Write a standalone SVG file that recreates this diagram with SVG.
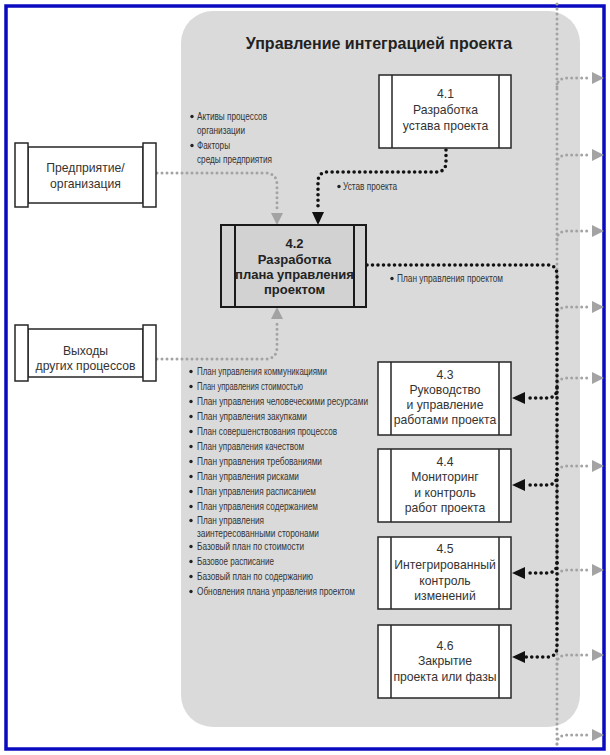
<svg xmlns="http://www.w3.org/2000/svg" width="610" height="755" viewBox="0 0 610 755">
<defs>
<style>
.box{fill:#fff;stroke:#262626;stroke-width:1.5}
.side{fill:none;stroke:#262626;stroke-width:1.5}
.bt{font-family:"Liberation Sans",Arial,sans-serif;font-size:12.2px;fill:#333;text-anchor:middle}
.bb{font-family:"Liberation Sans",Arial,sans-serif;font-size:13px;font-weight:bold;fill:#222;text-anchor:middle}
.sm{font-family:"Liberation Sans",Arial,sans-serif;font-size:10.5px;fill:#333}
.gd{fill:none;stroke:#a3a3a3;stroke-width:3;stroke-dasharray:0 5;stroke-linecap:round}
.kd{fill:none;stroke:#111;stroke-width:3.6;stroke-dasharray:0 5.5;stroke-linecap:round}
.ga{fill:#a3a3a3}
.ka{fill:#111}
.dot{fill:#222}
</style>
</defs>
<rect x="0" y="0" width="610" height="755" fill="#fff"/>
<rect x="6" y="6" width="598" height="743" fill="none" stroke="#0a0ac0" stroke-width="3.5"/>
<g id="container">
<rect x="181" y="11" width="399" height="716" rx="32" ry="32" fill="#dadada"/>
<text x="379" y="49" font-family="Liberation Sans,Arial,sans-serif" font-size="16" font-weight="bold" fill="#222" text-anchor="middle">Управление интеграцией проекта</text>
</g>
<g id="connectors">
<path class="gd" d="M557,4 V749"/>
<path class="gd" d="M557,87 Q557,78 567,78 H590"/>
<path class="gd" d="M557,164 Q557,155 567,155 H590"/>
<path class="gd" d="M557,240 Q557,231 567,231 H590"/>
<path class="gd" d="M557,316 Q557,307 567,307 H590"/>
<path class="gd" d="M557,387 Q557,378 567,378 H590"/>
<path class="gd" d="M557,475 Q557,466 567,466 H590"/>
<path class="gd" d="M557,579 Q557,570 567,570 H590"/>
<path class="gd" d="M557,664 Q557,655 567,655 H590"/>
<path class="gd" d="M557,744 Q557,735 567,735 H590"/>
<polygon class="ga" points="604,78 592,72 592,84"/>
<polygon class="ga" points="604,155 592,149 592,161"/>
<polygon class="ga" points="604,231 592,225 592,237"/>
<polygon class="ga" points="604,307 592,301 592,313"/>
<polygon class="ga" points="604,378 592,372 592,384"/>
<polygon class="ga" points="604,466 592,460 592,472"/>
<polygon class="ga" points="604,570 592,564 592,576"/>
<polygon class="ga" points="604,655 592,649 592,661"/>
<polygon class="ga" points="604,735 592,729 592,741"/>
<path class="gd" d="M157,173 H265 Q277,173 277,185 V212"/>
<polygon class="ga" points="277,225 271,213 283,213"/>
<path class="gd" d="M157,359 H265 Q277,359 277,347 V320"/>
<polygon class="ga" points="277,307 271,319 283,319"/>
<path class="kd" d="M446,150 V162 Q446,172 436,172 H328 Q318,172 318,182 V211"/>
<polygon class="ka" points="318,225 312,212 324,212"/>
<path class="kd" d="M367,265 H547 Q557,265 557,275 V647 Q557,657 547,657 H525"/>
<path class="kd" d="M557,388 Q557,398 547,398 H525"/>
<path class="kd" d="M557,475 Q557,485 547,485 H525"/>
<path class="kd" d="M557,563 Q557,573 547,573 H525"/>
<polygon class="ka" points="512,398 525,392 525,404"/>
<polygon class="ka" points="512,485 525,479 525,491"/>
<polygon class="ka" points="512,573 525,567 525,579"/>
<polygon class="ka" points="512,657 525,651 525,663"/>
</g>
<g id="labels">
<circle class="dot" cx="192" cy="116.5" r="1.7"/>
<circle class="dot" cx="192" cy="145.5" r="1.7"/>
<circle class="dot" cx="339" cy="186.5" r="1.7"/>
<circle class="dot" cx="392" cy="278.5" r="1.7"/>
<text class="sm" x="197" y="120" textLength="70" lengthAdjust="spacingAndGlyphs">Активы процессов</text>
<text class="sm" x="197" y="134" textLength="48" lengthAdjust="spacingAndGlyphs">организации</text>
<text class="sm" x="197" y="149" textLength="33" lengthAdjust="spacingAndGlyphs">Факторы</text>
<text class="sm" x="197" y="163" textLength="75" lengthAdjust="spacingAndGlyphs">среды предприятия</text>
<text class="sm" x="343" y="190" textLength="54" lengthAdjust="spacingAndGlyphs">Устав проекта</text>
<text class="sm" x="397" y="282" textLength="106" lengthAdjust="spacingAndGlyphs">План управления проектом</text>
<circle class="dot" cx="191" cy="371.5" r="1.7"/>
<circle class="dot" cx="191" cy="386.5" r="1.7"/>
<circle class="dot" cx="191" cy="401.5" r="1.7"/>
<circle class="dot" cx="191" cy="416.5" r="1.7"/>
<circle class="dot" cx="191" cy="431.5" r="1.7"/>
<circle class="dot" cx="191" cy="446.5" r="1.7"/>
<circle class="dot" cx="191" cy="461.5" r="1.7"/>
<circle class="dot" cx="191" cy="476.5" r="1.7"/>
<circle class="dot" cx="191" cy="491.5" r="1.7"/>
<circle class="dot" cx="191" cy="506.5" r="1.7"/>
<circle class="dot" cx="191" cy="520.5" r="1.7"/>
<circle class="dot" cx="191" cy="546.5" r="1.7"/>
<circle class="dot" cx="191" cy="561.5" r="1.7"/>
<circle class="dot" cx="191" cy="576.5" r="1.7"/>
<circle class="dot" cx="191" cy="591.5" r="1.7"/>
<text class="sm" x="197" y="375" textLength="130" lengthAdjust="spacingAndGlyphs">План управления коммуникациями</text>
<text class="sm" x="197" y="390" textLength="106" lengthAdjust="spacingAndGlyphs">План управления стоимостью</text>
<text class="sm" x="197" y="405" textLength="171" lengthAdjust="spacingAndGlyphs">План управления человеческими ресурсами</text>
<text class="sm" x="197" y="420" textLength="110" lengthAdjust="spacingAndGlyphs">План управления закупками</text>
<text class="sm" x="197" y="435" textLength="140" lengthAdjust="spacingAndGlyphs">План совершенствования процессов</text>
<text class="sm" x="197" y="450" textLength="107" lengthAdjust="spacingAndGlyphs">План управления качеством</text>
<text class="sm" x="197" y="465" textLength="125" lengthAdjust="spacingAndGlyphs">План управления требованиями</text>
<text class="sm" x="197" y="480" textLength="102" lengthAdjust="spacingAndGlyphs">План управления рисками</text>
<text class="sm" x="197" y="495" textLength="119" lengthAdjust="spacingAndGlyphs">План управления расписанием</text>
<text class="sm" x="197" y="510" textLength="121" lengthAdjust="spacingAndGlyphs">План управления содержанием</text>
<text class="sm" x="197" y="524" textLength="67" lengthAdjust="spacingAndGlyphs">План управления</text>
<text class="sm" x="197" y="537" textLength="122" lengthAdjust="spacingAndGlyphs">заинтересованными сторонами</text>
<text class="sm" x="197" y="550" textLength="107" lengthAdjust="spacingAndGlyphs">Базовый план по стоимости</text>
<text class="sm" x="197" y="565" textLength="77" lengthAdjust="spacingAndGlyphs">Базовое расписание</text>
<text class="sm" x="197" y="580" textLength="116" lengthAdjust="spacingAndGlyphs">Базовый план по содержанию</text>
<text class="sm" x="197" y="595" textLength="158" lengthAdjust="spacingAndGlyphs">Обновления плана управления проектом</text>
</g>
<g id="enterprise">
<rect class="box" x="28" y="147" width="115" height="56"/>
<rect class="box" x="15" y="143" width="13" height="64"/>
<rect class="box" x="143" y="143" width="13" height="64"/>
<text class="bt" x="85.5" y="172" font-size="13">Предприятие/</text>
<text class="bt" x="85.5" y="188" font-size="13">организация</text>
</g>
<g id="other-outputs">
<rect class="box" x="28" y="329" width="115" height="48"/>
<rect class="box" x="15" y="325" width="13" height="56"/>
<rect class="box" x="143" y="325" width="13" height="56"/>
<text class="bt" x="85.5" y="355" font-size="13">Выходы</text>
<text class="bt" x="85.5" y="370" font-size="13">других процессов</text>
</g>
<g id="p41">
<rect class="box" x="379" y="75" width="132" height="73"/>
<path class="side" d="M392,75 V148 M499,75 V148"/>
<text class="bt" x="445.5" y="98">4.1</text>
<text class="bt" x="445.5" y="114">Разработка</text>
<text class="bt" x="445.5" y="130">устава проекта</text>
</g>
<g id="p42">
<rect x="221" y="225" width="145" height="82" fill="#d2d2d2" stroke="#1a1a1a" stroke-width="2"/>
<path d="M235,225 V307 M354,225 V307" stroke="#1a1a1a" stroke-width="2" fill="none"/>
<text class="bb" x="294.5" y="248">4.2</text>
<text class="bb" x="294.5" y="264">Разработка</text>
<text class="bb" x="294.5" y="279">плана управления</text>
<text class="bb" x="294.5" y="294">проектом</text>
</g>
<g id="p43">
<rect class="box" x="378" y="362" width="133" height="73"/>
<path class="side" d="M391,362 V435 M499,362 V435"/>
<text class="bt" x="445" y="379">4.3</text>
<text class="bt" x="445" y="394">Руководство</text>
<text class="bt" x="445" y="409">и управление</text>
<text class="bt" x="445" y="424">работами проекта</text>
</g>
<g id="p44">
<rect class="box" x="378" y="449" width="133" height="73"/>
<path class="side" d="M391,449 V522 M499,449 V522"/>
<text class="bt" x="445" y="466">4.4</text>
<text class="bt" x="445" y="481">Мониторинг</text>
<text class="bt" x="445" y="497">и контроль</text>
<text class="bt" x="445" y="512">работ проекта</text>
</g>
<g id="p45">
<rect class="box" x="378" y="537" width="133" height="72"/>
<path class="side" d="M391,537 V609 M499,537 V609"/>
<text class="bt" x="445" y="553">4.5</text>
<text class="bt" x="445" y="569">Интегрированный</text>
<text class="bt" x="445" y="585">контроль</text>
<text class="bt" x="445" y="600">изменений</text>
</g>
<g id="p46">
<rect class="box" x="378" y="625" width="133" height="73"/>
<path class="side" d="M391,625 V698 M499,625 V698"/>
<text class="bt" x="445" y="650">4.6</text>
<text class="bt" x="445" y="665">Закрытие</text>
<text class="bt" x="445" y="681">проекта или фазы</text>
</g>
</svg>
